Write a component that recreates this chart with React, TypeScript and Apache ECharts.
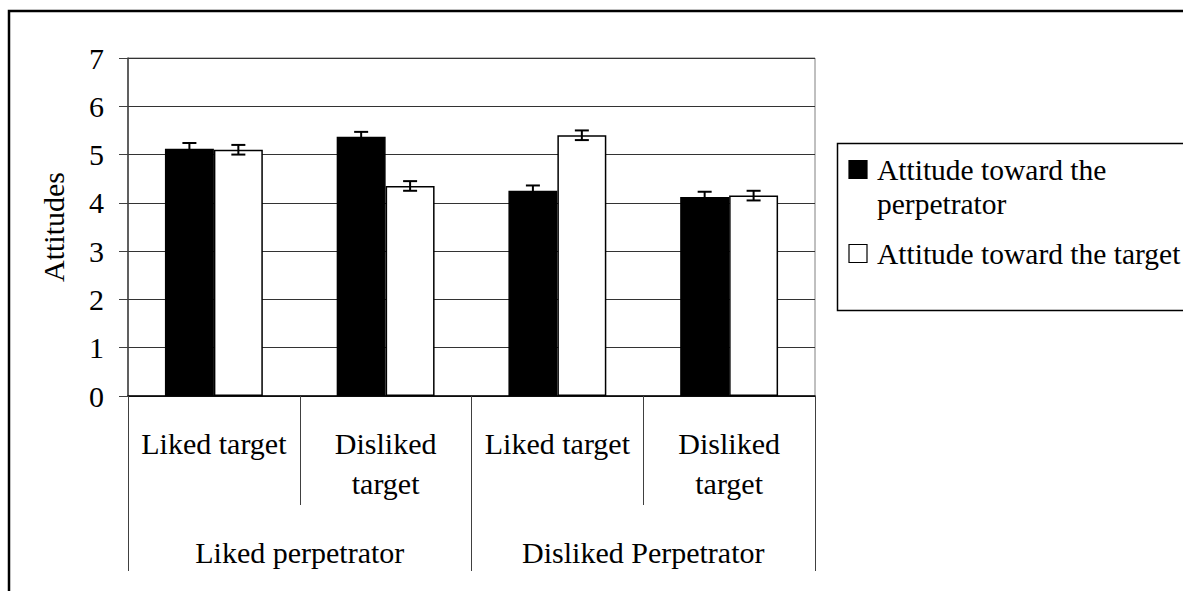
import React, { useEffect, useRef } from "react";
import * as echarts from "echarts";

const subCategories = ["Liked target", "Disliked\ntarget", "Liked target", "Disliked\ntarget"];
const groupCategories = ["Liked perpetrator", "Disliked Perpetrator"];
const seriesNames = ["Attitude toward the perpetrator", "Attitude toward the target"];
const seriesColors = ["#000", "#fff"];
const perpetratorValues = [5.12, 5.37, 4.25, 4.12];
const perpetratorErrors = [0.12, 0.1, 0.11, 0.11];
const targetValues = [5.1, 4.35, 5.4, 4.15];
const targetErrors = [0.1, 0.1, 0.1, 0.1];
const yTicks = [0, 1, 2, 3, 4, 5, 6, 7];

const FONT = "'Liberation Serif', 'Times New Roman', serif";
const BAR_CAT_GAP = 0.43;

function wrapLegend(name: string): string {
  return name.length > 27 ? name.replace(/ (\S+)$/, "\n$1") : name;
}

export default function App() {
  const ref = useRef<HTMLDivElement>(null);
  useEffect(() => {
    if (!ref.current) return;
    const chart = echarts.init(ref.current, undefined, { renderer: "svg" });
    const errData: number[][] = [];
    perpetratorValues.forEach((v, i) => errData.push([i, v, perpetratorErrors[i], 0]));
    targetValues.forEach((v, i) => errData.push([i, v, targetErrors[i], 1]));

    const legendCenters = [170, 254];
    const legendLineH = 34;
    const legendGraphics: any[] = [];
    seriesNames.forEach((name, i) => {
      const text = wrapLegend(name);
      const c = legendCenters[i];
      legendGraphics.push({
        type: "rect",
        shape: { x: 849, y: c - 9.5, width: 18, height: 18 },
        style: { fill: seriesColors[i], stroke: "#000", lineWidth: 1.2 },
        silent: true,
      });
      legendGraphics.push({
        type: "text",
        x: 877,
        y: c - legendLineH / 2,
        style: {
          text,
          fill: "#000",
          font: `29.5px ${FONT}`,
          lineHeight: legendLineH,
          verticalAlign: "top",
          align: "left",
        },
        silent: true,
      });
    });

    const option: any = {
      animation: false,
      backgroundColor: "#fff",
      textStyle: { fontFamily: FONT, color: "#000" },
      graphic: [
        {
          type: "rect",
          shape: { x: 9, y: 11, width: 1400, height: 800 },
          style: { fill: "none", stroke: "#000", lineWidth: 2.5 },
          silent: true,
          z: -10,
        },
        {
          type: "rect",
          shape: { x: 837.5, y: 143.5, width: 500, height: 167 },
          style: { fill: "none", stroke: "#000", lineWidth: 1.5 },
          silent: true,
        },
        ...legendGraphics,
      ],
      grid: {
        left: 128,
        right: 368,
        top: 58,
        bottom: 195,
        show: true,
        borderColor: "#808080",
        borderWidth: 1,
      },
      xAxis: [
        {
          type: "category",
          data: subCategories,
          position: "bottom",
          axisLine: { show: true, lineStyle: { color: "#000", width: 1.5 } },
          axisTick: { show: true, length: 109, lineStyle: { color: "#404040", width: 1 } },
          axisLabel: {
            interval: 0,
            margin: 27,
            fontFamily: FONT,
            fontSize: 30,
            lineHeight: 40,
            color: "#000",
          },
          splitLine: { show: false },
        },
        {
          type: "category",
          data: groupCategories,
          position: "bottom",
          axisLine: { show: false },
          axisTick: { show: true, length: 175, lineStyle: { color: "#404040", width: 1 } },
          axisLabel: {
            interval: 0,
            margin: 136,
            fontFamily: FONT,
            fontSize: 30,
            lineHeight: 40,
            color: "#000",
          },
          splitLine: { show: false },
        },
      ],
      yAxis: {
        type: "value",
        min: yTicks[0],
        max: yTicks[yTicks.length - 1],
        interval: 1,
        name: "Attitudes",
        nameLocation: "middle",
        nameRotate: 90,
        nameGap: 60,
        nameTextStyle: { fontFamily: FONT, fontSize: 30, color: "#000" },
        axisLine: { show: true, lineStyle: { color: "#404040", width: 1.5 } },
        axisTick: { show: true, length: 9, lineStyle: { color: "#404040", width: 1 } },
        axisLabel: { margin: 24, fontFamily: FONT, fontSize: 30, color: "#000" },
        splitLine: { show: true, lineStyle: { color: "#333", width: 1 } },
      },
      series: [
        {
          name: seriesNames[0],
          type: "bar",
          data: perpetratorValues,
          barGap: "0%",
          barCategoryGap: BAR_CAT_GAP * 100 + "%",
          itemStyle: { color: seriesColors[0], borderColor: "#000", borderWidth: 1.5 },
        },
        {
          name: seriesNames[1],
          type: "bar",
          data: targetValues,
          barGap: "0%",
          barCategoryGap: BAR_CAT_GAP * 100 + "%",
          itemStyle: { color: seriesColors[1], borderColor: "#000", borderWidth: 1.5 },
        },
        {
          type: "custom",
          z: 5,
          data: errData,
          renderItem: (params: any, api: any) => {
            const cat = api.value(0);
            const val = api.value(1);
            const err = api.value(2);
            const s = api.value(3);
            const band = api.size([1, 0])[0];
            const barW = (band * (1 - BAR_CAT_GAP)) / 2;
            const x = api.coord([cat, val])[0] + (s === 0 ? -barW / 2 : barW / 2);
            const yTop = api.coord([cat, val + err])[1];
            const yBot = api.coord([cat, val - err])[1];
            const capHalf = 7;
            const style = { stroke: "#000", lineWidth: 2 };
            return {
              type: "group",
              children: [
                { type: "line", shape: { x1: x, y1: yTop, x2: x, y2: yBot }, style },
                { type: "line", shape: { x1: x - capHalf, y1: yTop, x2: x + capHalf, y2: yTop }, style },
                { type: "line", shape: { x1: x - capHalf, y1: yBot, x2: x + capHalf, y2: yBot }, style },
              ],
            };
          },
        },
      ],
    };
    chart.setOption(option);
    return () => chart.dispose();
  }, []);
  return (
    <div
      ref={ref}
      style={{ position: "absolute", left: 0, top: 0, width: 1183, height: 591 }}
    />
  );
}
